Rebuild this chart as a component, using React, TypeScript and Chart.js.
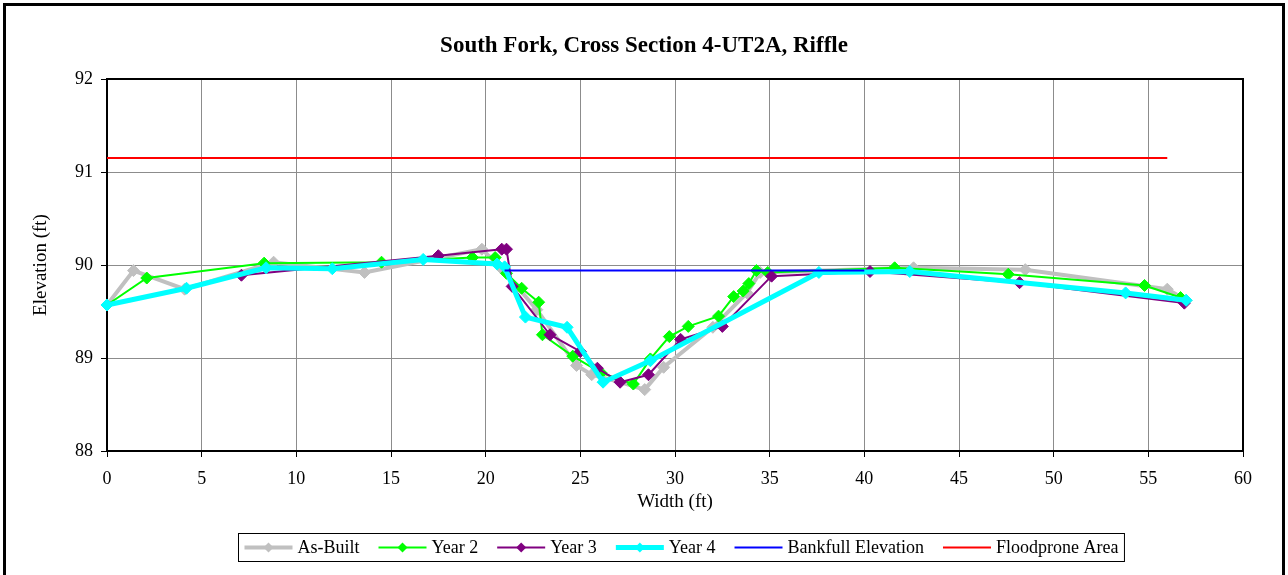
import { useEffect, useRef } from "react";
import { Chart, registerables } from "chart.js";

Chart.register(...registerables);

const chartTitle = "South Fork, Cross Section 4-UT2A, Riffle";
const xAxisTitle = "Width (ft)";
const yAxisTitle = "Elevation (ft)";

const asBuiltX = [0, 1.4, 4.1, 8.8, 13.6, 19.8, 20.9, 22.7, 24.8, 25.6, 27.1, 28.4, 29.4, 32.0, 33.8, 34.5, 42.6, 48.5, 56.0, 57.0];
const asBuiltY = [89.57, 89.94, 89.74, 90.03, 89.92, 90.17, 89.95, 89.52, 88.92, 88.82, 88.74, 88.66, 88.9, 89.33, 89.7, 89.92, 89.97, 89.95, 89.74, 89.62];

const year2X = [0, 2.1, 8.3, 14.5, 19.3, 20.5, 21.1, 21.9, 22.8, 23.0, 24.6, 26.1, 27.8, 28.7, 29.7, 30.7, 32.3, 33.1, 33.6, 33.9, 34.3, 34.9, 41.6, 47.6, 54.8, 56.7];
const year2Y = [89.57, 89.86, 90.02, 90.03, 90.08, 90.08, 89.91, 89.75, 89.6, 89.25, 89.02, 88.84, 88.72, 88.99, 89.23, 89.34, 89.45, 89.66, 89.72, 89.8, 89.94, 89.92, 89.97, 89.9, 89.78, 89.65];

const year3X = [0, 7.1, 17.5, 20.85, 21.1, 21.4, 23.4, 25.0, 25.9, 27.1, 28.6, 30.3, 32.5, 35.1, 40.3, 48.2, 56.9];
const year3Y = [89.57, 89.89, 90.1, 90.17, 90.17, 89.77, 89.25, 89.07, 88.89, 88.74, 88.82, 89.2, 89.34, 89.88, 89.93, 89.81, 89.59];

const year4X = [0, 4.2, 8.4, 11.9, 16.7, 20.6, 21.0, 22.1, 24.3, 26.2, 28.7, 37.6, 42.4, 53.8, 57.0];
const year4Y = [89.57, 89.75, 89.97, 89.96, 90.06, 90.01, 89.98, 89.44, 89.33, 88.74, 88.97, 89.92, 89.93, 89.7, 89.62];

const bankfullX = [21.0, 40.0];
const bankfullY = [89.94, 89.94];

const floodproneX = [0, 56.0];
const floodproneY = [91.15, 91.15];

const seriesNames = ["As-Built", "Year 2", "Year 3", "Year 4", "Bankfull Elevation", "Floodprone Area"];

const FONT = "'Liberation Serif', 'Times New Roman', serif";

const toPts = (xs: number[], ys: number[]) => xs.map((x, i) => ({ x, y: ys[i] }));

const decorPlugin = {
  id: "decor",
  beforeDatasetsDraw(chart: any) {
    const { ctx, chartArea } = chart;
    ctx.save();
    ctx.strokeStyle = "#000";
    ctx.lineWidth = 2;
    ctx.strokeRect(chartArea.left, chartArea.top, chartArea.right - chartArea.left, chartArea.bottom - chartArea.top);
    ctx.restore();
  },
  afterDraw(chart: any) {
    const { ctx } = chart;
    ctx.save();
    // outer frame
    ctx.strokeStyle = "#000";
    ctx.lineWidth = 3;
    ctx.strokeRect(4.5, 4.5, 1279, 700);
    // title
    ctx.fillStyle = "#000";
    ctx.font = `bold 23px ${FONT}`;
    ctx.textAlign = "center";
    ctx.textBaseline = "middle";
    ctx.fillText(chartTitle, 644, 46);
    // legend
    ctx.font = `18px ${FONT}`;
    const sample = 48;
    const gapText = 5;
    const gapItem = 19;
    const padX = 6;
    const ds = chart.data.datasets;
    const widths = ds.map((d: any) => ctx.measureText(d.label).width);
    let total = padX * 2;
    widths.forEach((w: number, i: number) => {
      total += sample + gapText + w + (i < widths.length - 1 ? gapItem : 0);
    });
    const cx = 681;
    const boxL = Math.round(cx - total / 2) + 0.5;
    const boxT = 533.5;
    const boxH = 28;
    ctx.fillStyle = "#fff";
    ctx.fillRect(boxL, boxT, total, boxH);
    ctx.strokeStyle = "#000";
    ctx.lineWidth = 1;
    ctx.strokeRect(boxL, boxT, total, boxH);
    const cy = boxT + boxH / 2;
    let x = boxL + padX;
    ds.forEach((d: any, i: number) => {
      ctx.strokeStyle = d.borderColor;
      ctx.lineWidth = d.borderWidth;
      ctx.beginPath();
      ctx.moveTo(x, cy);
      ctx.lineTo(x + sample, cy);
      ctx.stroke();
      if (d.pointRadius > 0) {
        const r = 5;
        const mx = x + sample / 2;
        ctx.fillStyle = d.pointBackgroundColor;
        ctx.beginPath();
        ctx.moveTo(mx - r, cy);
        ctx.lineTo(mx, cy - r);
        ctx.lineTo(mx + r, cy);
        ctx.lineTo(mx, cy + r);
        ctx.closePath();
        ctx.fill();
      }
      ctx.fillStyle = "#000";
      ctx.textAlign = "left";
      ctx.textBaseline = "middle";
      ctx.fillText(d.label, x + sample + gapText, cy + 1);
      x += sample + gapText + widths[i] + gapItem;
    });
    ctx.restore();
  },
};

export default function App() {
  const ref = useRef<HTMLCanvasElement | null>(null);
  useEffect(() => {
    if (!ref.current) return;
    const mk = (label: string, xs: number[], ys: number[], color: string, width: number, radius: number, order: number) => ({
      label,
      data: toPts(xs, ys),
      borderColor: color,
      backgroundColor: color,
      pointBackgroundColor: color,
      pointBorderColor: color,
      borderWidth: width,
      pointRadius: radius,
      pointHoverRadius: radius,
      pointBorderWidth: 1,
      pointStyle: "rectRot",
      tension: 0,
      fill: false,
      clip: false,
      order,
    });
    const chart = new Chart(ref.current, {
      type: "line",
      data: {
        datasets: [
          mk(seriesNames[0], asBuiltX, asBuiltY, "#C0C0C0", 4, 6, 6),
          mk(seriesNames[1], year2X, year2Y, "#00FF00", 2, 6, 5),
          mk(seriesNames[2], year3X, year3Y, "#800080", 2, 6, 4),
          mk(seriesNames[3], year4X, year4Y, "#00FFFF", 5, 6, 3),
          mk(seriesNames[4], bankfullX, bankfullY, "#0000FF", 2, 0, 2),
          mk(seriesNames[5], floodproneX, floodproneY, "#FF0000", 2, 0, 1),
        ] as any,
      },
      options: {
        animation: false,
        responsive: false,
        devicePixelRatio: 1,
        layout: { padding: { left: 0, right: 45, top: 79, bottom: 60 } },
        plugins: {
          legend: { display: false },
          title: { display: false },
          tooltip: { enabled: false },
        },
        scales: {
          x: {
            type: "linear",
            min: 0,
            max: 60,
            ticks: { stepSize: 5, color: "#000", font: { family: FONT, size: 18 }, padding: 11, maxRotation: 0 },
            grid: { color: "#8c8c8c", tickColor: "#000", tickLength: 6, lineWidth: 1 },
            border: { display: false },
            title: { display: true, text: xAxisTitle, color: "#000", font: { family: FONT, size: 19 }, padding: { top: 0, bottom: 2 } },
            afterFit: (s: any) => { s.height = 64; },
          },
          y: {
            type: "linear",
            min: 88,
            max: 92,
            ticks: { stepSize: 1, color: "#000", font: { family: FONT, size: 18 }, padding: 8 },
            grid: { color: "#8c8c8c", tickColor: "#000", tickLength: 6, lineWidth: 1 },
            border: { display: false },
            title: { display: true, text: yAxisTitle, color: "#000", font: { family: FONT, size: 19 }, padding: { top: 30, bottom: 0 } },
            afterFit: (s: any) => { s.width = 107; },
          },
        },
      } as any,
      plugins: [decorPlugin],
    });
    return () => chart.destroy();
  }, []);
  return (
    <div style={{ position: "fixed", left: 0, top: 0, width: 1288, height: 575, background: "#fff" }}>
      <canvas ref={ref} width={1288} height={575} style={{ width: 1288, height: 575, display: "block" }} />
    </div>
  );
}
